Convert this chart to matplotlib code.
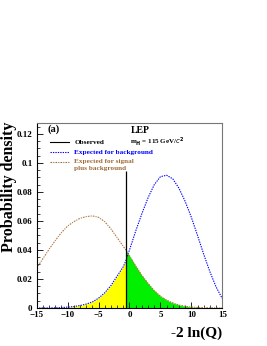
import matplotlib
matplotlib.use("Agg")
import matplotlib.pyplot as plt
from matplotlib.ticker import MultipleLocator
import numpy as np

plt.rcParams['font.family'] = ['Liberation Serif', 'DejaVu Serif']

# expected -2lnQ distribution for background only
bkg_x = [-15, -13, -12, -11, -10, -9, -8, -7, -6, -5, -4, -3, -2, -1, -0.6,
         0, 1, 2, 3, 4, 5, 6, 7, 8, 9, 10, 11, 12, 13, 14, 15]
bkg_y = [0.0, 0.0, 0.0001, 0.0003, 0.0006, 0.001, 0.0017, 0.0027, 0.0042, 0.0068,
         0.0105, 0.0155, 0.022, 0.0285, 0.0325,
         0.040, 0.053, 0.065, 0.076, 0.085, 0.0905, 0.0915, 0.089, 0.0825, 0.0735,
         0.0625, 0.050, 0.037, 0.025, 0.0145, 0.0065]

# expected for signal plus background
sb_x = [-15, -14, -13, -12, -11, -10, -9, -8, -7, -6, -5, -4, -3, -2, -1, -0.6,
        0, 1, 2, 3, 4, 5, 6, 7, 8, 9, 10, 11, 12, 13, 14, 15]
sb_y = [0.0275, 0.034, 0.0405, 0.0465, 0.052, 0.0565, 0.0595, 0.0618, 0.063, 0.0635,
        0.0625, 0.0595, 0.0545, 0.0485, 0.0425, 0.040,
        0.036, 0.029, 0.0225, 0.017, 0.012, 0.0082, 0.0055, 0.0035, 0.0021, 0.0012,
        0.0007, 0.0004, 0.0002, 0.0001, 0.0, 0.0]

observed = -0.6
obs_top = 0.0945

bx = np.array(bkg_x); by = np.array(bkg_y)
sx = np.array(sb_x); sy = np.array(sb_y)

fig = plt.figure(figsize=(2.67, 3.46), dpi=100)
ax = fig.add_axes([0.1375, 0.1098, 0.695, 0.5347])

ax.fill_between(bx, 0, by, where=bx <= observed, color='#ffff00', lw=0)
ax.fill_between(sx, 0, sy, where=sx >= observed, color='#00f000', lw=0)
ax.plot(bx, by, color='#0000ff', lw=0.8, ls=(0, (1.2, 1.0)))
ax.plot(sx, sy, color='#b07840', lw=0.8, ls=(0, (1.5, 1, 1, 1)))
ax.vlines(observed, 0, obs_top, color='black', lw=0.9)

ax.set_xlim(-15, 15)
ax.set_ylim(0, 0.1275)
ax.xaxis.set_major_locator(MultipleLocator(5))
ax.xaxis.set_minor_locator(MultipleLocator(1))
ax.yaxis.set_major_locator(MultipleLocator(0.02))
ax.yaxis.set_minor_locator(MultipleLocator(0.005))
ax.set_yticks([0, 0.02, 0.04, 0.06, 0.08, 0.1, 0.12])
ax.set_yticklabels(['0', '0.02', '0.04', '0.06', '0.08', '0.1', '0.12'])
ax.tick_params(which='both', direction='in', top=False, right=False,
               labelsize=6.5)
ax.tick_params(axis='x', pad=2.5)
ax.tick_params(axis='y', pad=3)
ax.tick_params(which='major', length=4, width=0.6)
ax.tick_params(which='minor', length=2, width=0.5)
for lab in ax.get_xticklabels() + ax.get_yticklabels():
    lab.set_fontweight('bold')
for sp in ax.spines.values():
    sp.set_linewidth(0.8)
ax.spines['top'].set_color('#777777')
ax.spines['right'].set_color('#777777')

fig.text(0.034, 0.461, 'Probability density', rotation=90, fontsize=11.5,
         fontweight='bold', ha='center', va='center')
fig.text(0.832, 0.037, '-2 ln(Q)', fontsize=11, fontweight='bold',
         ha='right', va='center')

ax.text(0.058, 0.968, '(a)', transform=ax.transAxes, fontsize=7.5,
        fontweight='bold', va='center')
ax.text(0.505, 0.958, 'LEP', transform=ax.transAxes, fontsize=7,
        fontweight='bold', va='center')
ax.text(0.505, 0.899, r'm$_{\mathbf{H}}$ = 115 GeV/$\mathit{c}^{\mathbf{2}}$',
        transform=ax.transAxes, fontsize=5, fontweight='bold', va='center')

# legend drawn by hand as in the original
lx0, lx1, tx = 0.072, 0.172, 0.203
rows = [(0.896, 'Observed', 'black', '-'),
        (0.842, 'Expected for background', '#0000ff', (0, (1.2, 1.0))),
        (0.791, 'Expected for signal', '#a06c38', (0, (1.5, 1, 1, 1)))]
for yy, txt, col, ls in rows:
    ax.plot([lx0, lx1], [yy, yy], transform=ax.transAxes, color=col, lw=0.8, ls=ls)
    ax.text(tx, yy, txt, transform=ax.transAxes, fontsize=5.2, fontweight='bold',
            color=col, va='center')
ax.text(tx, 0.755, 'plus background', transform=ax.transAxes, fontsize=5.2,
        fontweight='bold', color='#a06c38', va='center')

fig.savefig('out.png', dpi=100)
